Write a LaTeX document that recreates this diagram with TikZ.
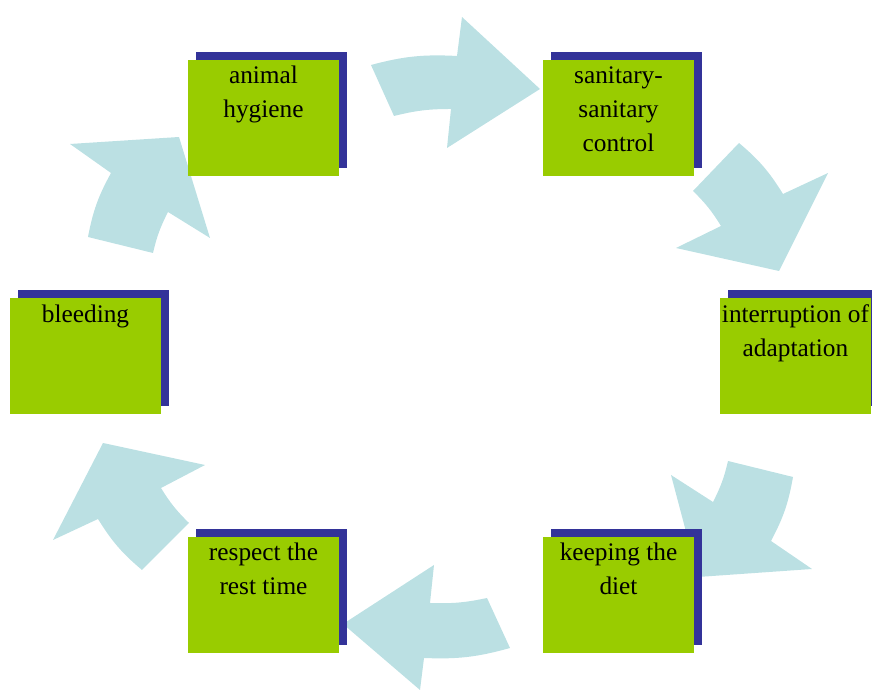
\documentclass[tikz,border=0pt]{standalone}
\usepackage{fontspec}
\setmainfont{Liberation Serif}
\usetikzlibrary{shadows}
\definecolor{boxgreen}{HTML}{99CC00}
\definecolor{boxblue}{HTML}{333399}
\definecolor{arrowblue}{HTML}{BBE0E3}

\begin{document}
\begin{tikzpicture}[x=0.75pt,y=0.75pt,
  stepbox/.style={fill=boxgreen,minimum width=113.25pt,minimum height=87pt,inner sep=0,
    drop shadow={shadow xshift=6pt,shadow yshift=6pt,fill=boxblue,opacity=1}},
  steptext/.style={anchor=north,inner sep=0,text width=113pt,align=flush center,
    font=\fontsize{19}{25.5}\selectfont,execute at begin node=\strut},
  outerarc/.style={bend left=9},innerarc/.style={bend right=7}]
  \clip (0,0) rectangle (872,691);
  % curved arrows (clockwise)
  \fill[arrowblue] (371,626) to[outerarc] (457,635) -- (462,674) -- (540,602) -- (447,543) -- (451,582) to[innerarc] (394,575) -- cycle;
  \fill[arrowblue] (739,548) to[outerarc] (783,497) -- (828,518) -- (779,420) -- (676,443) -- (721,465) to[innerarc] (693,500) -- cycle;
  \fill[arrowblue] (793,214) to[outerarc] (771,150) -- (812,122) -- (698,114) -- (671,216) -- (713,189) to[innerarc] (728,230) -- cycle;
  \fill[arrowblue] (510,43) to[outerarc] (424,33) -- (420,1) -- (343,67) -- (434,126) -- (430,88) to[innerarc] (487,93) -- cycle;
  \fill[arrowblue] (142,121) to[outerarc] (98,172) -- (53,151) -- (103,248) -- (205,226) -- (161,203) to[innerarc] (189,168) -- cycle;
  \fill[arrowblue] (88,454) to[outerarc] (111,518) -- (70,547) -- (179,554) -- (210,453) -- (168,479) to[innerarc] (153,438) -- cycle;
  % steps
  \foreach \n/\x/\y/\t in {hyg/263.5/573/{animal\\hygiene},
      san/618.5/573/{sanitary-\\sanitary\\control},
      intr/795.5/334.5/{interruption of\\adaptation},
      diet/618.5/96/{keeping the\\diet},
      rest/263.5/96/{respect the\\rest time},
      bleed/85.5/334.5/{bleeding}}{
    \node[stepbox] (\n) at (\x,\y) {};
    \node[steptext] (\n-t) at (\n.north) {\t};
  }
\end{tikzpicture}
\end{document}
